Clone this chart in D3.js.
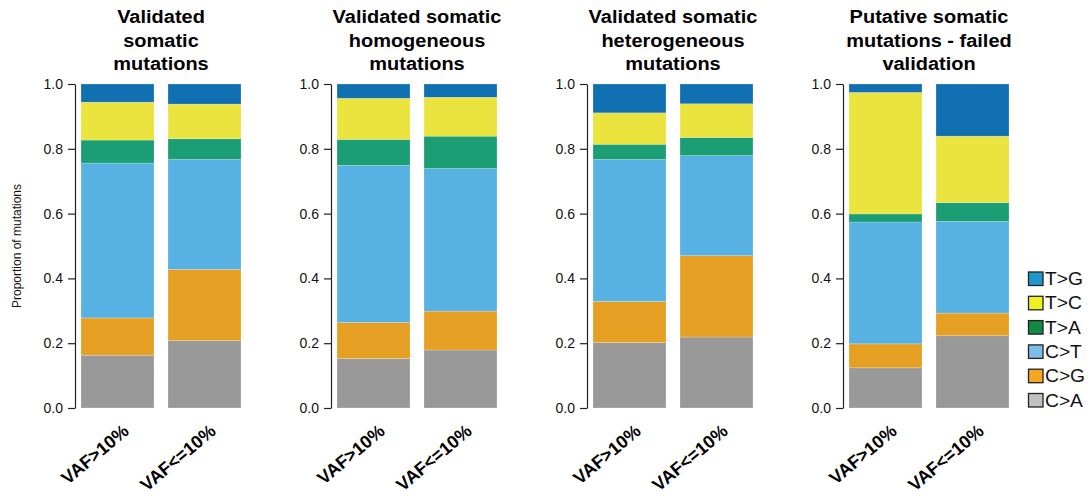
<!DOCTYPE html>
<html><head><meta charset="utf-8">
<script src="https://cdn.jsdelivr.net/npm/d3@7"></script>
<style>body{margin:0;background:#fff}svg{display:block;font-family:"Liberation Sans",Arial,sans-serif}</style>
</head><body><svg id="c" width="1092" height="500"></svg>
<script>
// Mutation types, bottom to top
const types = ["C>A","C>G","C>T","T>A","T>C","T>G"];
const barColors = ["#999999","#e5a023","#58b1e3","#1c9e74","#ebe33e","#1170b2"];
const legendColors = ["#c0c0c0","#f5a623","#7fbde6","#118a44","#f0f020","#1f97c8"];
const groups = ["VAF>10%","VAF<=10%"];
const panelTitles = [
  ["Validated","somatic","mutations"],
  ["Validated somatic","homogeneous","mutations"],
  ["Validated somatic","heterogeneous","mutations"],
  ["Putative somatic","mutations - failed","validation"]
];
// proportions per panel, per group, in order of `types`
const panel1 = [[0.163,0.115,0.478,0.071,0.117,0.056],[0.208,0.220,0.339,0.064,0.107,0.062]];
const panel2 = [[0.153,0.111,0.485,0.080,0.127,0.044],[0.179,0.120,0.440,0.100,0.120,0.041]];
const panel3 = [[0.202,0.127,0.438,0.047,0.097,0.089],[0.219,0.251,0.309,0.056,0.104,0.061]];
const panel4 = [[0.124,0.074,0.376,0.025,0.375,0.026],[0.223,0.070,0.283,0.058,0.205,0.161]];
const yTicks = [0,0.2,0.4,0.6,0.8,1.0];

const panels = [panel1,panel2,panel3,panel4];
const svg = d3.select("#c");
const y = d3.scaleLinear().domain([0,1]).range([408,84]);

panels.forEach((pdata,i)=>{
  const x0 = 81 + i*256;
  const x = d3.scaleBand().domain(groups).range([x0, x0+160]).paddingInner(0.161).paddingOuter(0);
  const g = svg.append("g");
  const stack = d3.stack().keys(d3.range(types.length))(pdata);
  stack.forEach((layer,k)=>{
    g.selectAll(null).data(layer).enter().append("rect")
      .attr("x",(d,j)=>x(groups[j]))
      .attr("width",x.bandwidth())
      .attr("y",d=>y(d[1]))
      .attr("height",d=>y(d[0])-y(d[1]))
      .attr("fill",barColors[k])
      .attr("stroke","rgba(255,255,255,0.35)").attr("stroke-width",0.6);
  });
  const ax = g.append("g").attr("transform",`translate(${x0-6},0)`)
    .call(d3.axisLeft(y).tickValues(yTicks).tickFormat(d3.format(".1f")).tickSize(7).tickSizeOuter(0).tickPadding(5));
  ax.selectAll("path,line").attr("stroke","#222").attr("stroke-width",1.2);
  ax.selectAll("text").attr("font-size",14).attr("fill","#111").attr("font-family","Liberation Sans, Arial, sans-serif");
  // title
  const cx = x0 + 80;
  panelTitles[i].forEach((t,li)=>{
    g.append("text").attr("transform",`translate(${cx},${23+li*23.5}) scale(1.08,1)`).attr("text-anchor","middle")
      .attr("font-size",18.5).attr("font-weight","bold").attr("fill","#000").text(t);
  });
  // x labels
  groups.forEach(gr=>{
    const bx = x(gr)+x.bandwidth()/2;
    g.append("text").attr("transform",`translate(${bx+12.5},${433}) rotate(-40)`)
      .attr("text-anchor","end").attr("font-size",18).attr("font-weight","bold").text(gr);
  });
});

svg.append("text").attr("transform","translate(21,246) rotate(-90)").attr("text-anchor","middle")
  .attr("font-size",12).attr("fill","#111").text("Proportion of mutations");

// legend, top = T>G
const leg = svg.append("g");
types.slice().reverse().forEach((t,j)=>{
  const k = types.length-1-j;
  const cy = 278.5 + j*24.3;
  leg.append("rect").attr("x",1028.5).attr("y",cy-6.5).attr("width",14.5).attr("height",13.5)
    .attr("fill",legendColors[k]).attr("stroke","#222").attr("stroke-width",1.3);
  leg.append("text").attr("transform",`translate(1045,${cy+6.5}) scale(1.1,1)`).attr("font-size",17.5).attr("fill","#111").text(t);
});
</script></body></html>
